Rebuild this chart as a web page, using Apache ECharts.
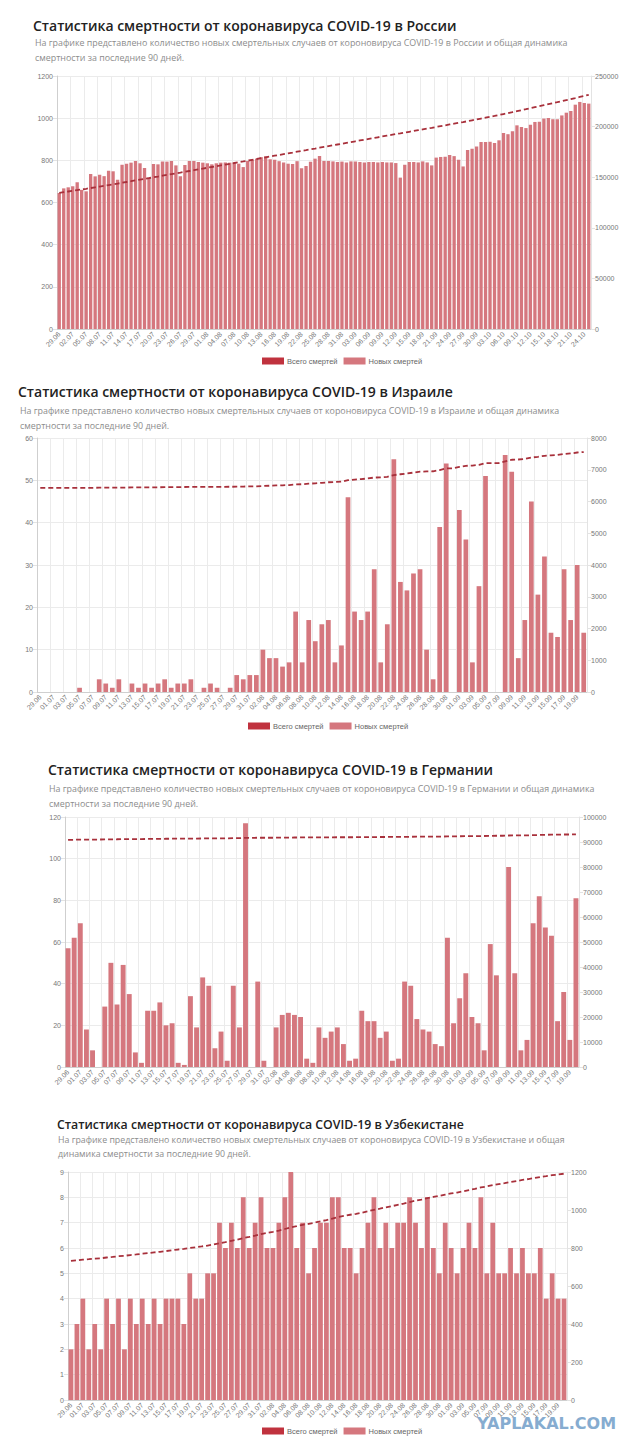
<!DOCTYPE html>
<html>
<head>
<meta charset="utf-8">
<title>Статистика смертности COVID-19</title>
<script src="https://cdn.jsdelivr.net/npm/echarts@6/dist/echarts.min.js"></script>
<style>
  html, body { margin: 0; padding: 0; background: #fff; }
  #chart { width: 640px; height: 1452px; }
</style>
</head>
<body>
<div id="chart"></div>
<script>
// Россия: новые смерти и всего смертей (29.06 - 25.10)
const ruNew = [645, 667, 672, 677, 696, 660, 653, 735, 724, 732,
  725, 751, 748, 708, 779, 784, 789, 797, 786, 764,
  719, 783, 781, 794, 794, 797, 776, 724, 778, 797,
  797, 792, 789, 786, 781, 786, 789, 790, 789, 789,
  784, 768, 797, 803, 808, 815, 819, 805, 803, 796,
  790, 784, 783, 796, 762, 773, 793, 808, 820, 797,
  797, 795, 792, 794, 790, 795, 794, 792, 790, 792,
  792, 790, 792, 790, 790, 787, 718, 779, 792, 792,
  790, 795, 790, 776, 813, 816, 817, 825, 820, 803,
  771, 849, 855, 866, 887, 887, 888, 882, 895, 930,
  924, 938, 966, 958, 953, 969, 982, 983, 998, 1001,
  995, 995, 1013, 1026, 1034, 1064, 1077, 1072, 1069]
const ruTotal = [134545, 135212, 135884, 136561, 137257, 137917, 138570, 139305, 140029, 140761,
  141486, 142237, 142985, 143693, 144472, 145256, 146045, 146842, 147628, 148392,
  149111, 149894, 150675, 151469, 152263, 153060, 153836, 154560, 155338, 156135,
  156932, 157724, 158513, 159299, 160080, 160866, 161655, 162445, 163234, 164023,
  164807, 165575, 166372, 167175, 167983, 168798, 169617, 170422, 171225, 172021,
  172811, 173595, 174378, 175174, 175936, 176709, 177502, 178310, 179130, 179927,
  180724, 181519, 182311, 183105, 183895, 184690, 185484, 186276, 187066, 187858,
  188650, 189440, 190232, 191022, 191812, 192599, 193317, 194096, 194888, 195680,
  196470, 197265, 198055, 198831, 199644, 200460, 201277, 202102, 202922, 203725,
  204496, 205345, 206200, 207066, 207953, 208840, 209728, 210610, 211505, 212435,
  213359, 214297, 215263, 216221, 217174, 218143, 219125, 220108, 221106, 222107,
  223102, 224097, 225110, 226136, 227170, 228234, 229311, 230383, 231452]

// Израиль (29.06 - 20.09)
const ilNew = [0, 0, 0, 0, 0, 0, 1, 0, 0, 3,
  2, 1, 3, 0, 2, 1, 2, 1, 2, 3,
  1, 2, 2, 3, 0, 1, 2, 1, 0, 1,
  4, 3, 4, 4, 10, 8, 8, 6, 7, 19,
  7, 17, 12, 16, 17, 7, 11, 46, 19, 17,
  19, 29, 7, 16, 55, 26, 24, 28, 29, 10,
  3, 39, 54, 0, 43, 36, 7, 25, 51, 0,
  0, 56, 52, 8, 17, 45, 23, 32, 14, 13,
  29, 17, 30, 14]
const ilTotal = [6430, 6430, 6430, 6430, 6430, 6430, 6431, 6431, 6431, 6434,
  6436, 6437, 6440, 6440, 6442, 6443, 6445, 6446, 6448, 6451,
  6452, 6454, 6456, 6459, 6459, 6460, 6462, 6463, 6463, 6464,
  6468, 6471, 6475, 6479, 6489, 6497, 6505, 6511, 6518, 6537,
  6544, 6561, 6573, 6589, 6606, 6613, 6624, 6670, 6689, 6706,
  6725, 6754, 6761, 6777, 6832, 6858, 6882, 6910, 6939, 6949,
  6952, 6991, 7045, 7045, 7088, 7124, 7131, 7156, 7207, 7207,
  7207, 7263, 7315, 7323, 7340, 7385, 7408, 7440, 7454, 7467,
  7496, 7513, 7543, 7557]

// Германия (29.06 - 20.09)
const deNew = [57, 62, 69, 18, 8, 0, 29, 50, 30, 49,
  35, 7, 2, 27, 27, 31, 20, 21, 2, 1,
  34, 19, 43, 39, 9, 17, 3, 39, 19, 117,
  0, 41, 3, 0, 19, 25, 26, 25, 24, 4,
  2, 19, 14, 17, 19, 11, 3, 4, 27, 22,
  22, 14, 17, 3, 4, 41, 39, 23, 18, 17,
  11, 10, 62, 21, 33, 45, 24, 21, 8, 59,
  44, 0, 96, 45, 8, 13, 69, 82, 67, 63,
  22, 36, 13, 81]
const deTotal = [90827, 90889, 90958, 90976, 90984, 90984, 91013, 91063, 91093, 91142,
  91177, 91184, 91186, 91213, 91240, 91271, 91291, 91312, 91314, 91315,
  91349, 91368, 91411, 91450, 91459, 91476, 91479, 91518, 91537, 91654,
  91654, 91695, 91698, 91698, 91717, 91742, 91768, 91793, 91817, 91821,
  91823, 91842, 91856, 91873, 91892, 91903, 91906, 91910, 91937, 91959,
  91981, 91995, 92012, 92015, 92019, 92060, 92099, 92122, 92140, 92157,
  92168, 92178, 92240, 92261, 92294, 92339, 92363, 92384, 92392, 92451,
  92495, 92495, 92591, 92636, 92644, 92657, 92726, 92808, 92875, 92938,
  92960, 92996, 93009, 93090]

// Узбекистан (29.06 - 20.09)
const uzNew = [2, 3, 4, 2, 3, 2, 4, 3, 4, 2,
  4, 3, 4, 3, 4, 3, 4, 4, 4, 3,
  5, 4, 4, 5, 5, 7, 6, 7, 6, 8,
  6, 7, 8, 6, 6, 7, 8, 9, 6, 7,
  5, 6, 7, 7, 8, 8, 6, 6, 5, 6,
  7, 8, 6, 7, 6, 7, 7, 8, 7, 6,
  8, 6, 5, 7, 6, 5, 6, 7, 6, 8,
  5, 7, 5, 5, 6, 5, 6, 5, 5, 6,
  4, 5, 4, 4]
const uzTotal = [732, 735, 739, 741, 744, 746, 750, 753, 757, 759,
  763, 766, 770, 773, 777, 780, 784, 788, 792, 795,
  800, 804, 808, 813, 818, 825, 831, 838, 844, 852,
  858, 865, 873, 879, 885, 892, 900, 909, 915, 922,
  927, 933, 940, 947, 955, 963, 969, 975, 980, 986,
  993, 1001, 1007, 1014, 1020, 1027, 1034, 1042, 1049, 1055,
  1063, 1069, 1074, 1081, 1087, 1092, 1098, 1105, 1111, 1119,
  1124, 1131, 1136, 1141, 1147, 1152, 1158, 1163, 1168, 1174,
  1178, 1183, 1187, 1191]

// подписи дат вида дд.мм
function dayLabels(day, month, count) {
  const monthDays = { 6: 30, 7: 31, 8: 31, 9: 30, 10: 31 }
  const out = []
  for (let i = 0; i < count; i++) {
    out.push(String(day).padStart(2, '0') + '.' + String(month).padStart(2, '0'))
    day++
    if (day > monthDays[month]) { day = 1; month++ }
  }
  return out
}
const ruDates = dayLabels(29, 6, ruNew.length)
const ilDates = dayLabels(29, 6, ilNew.length)
const deDates = dayLabels(29, 6, deNew.length)
const uzDates = dayLabels(29, 6, uzNew.length)

const NEW_NAME = 'Новых смертей'
const TOTAL_NAME = 'Всего смертей'
const BAR_COLOR = '#d5777e'
const LINE_COLOR = '#a8303b'
const TICK_FONT = '"Liberation Sans", Arial, sans-serif'

const panels = [
  { dates: ruDates, news: ruNew, totals: ruTotal, grid: { left: 57, right: 49, top: 76, height: 253 },
    leftMax: 1200, leftStep: 200, rightMax: 250000, rightStep: 50000, every: 3, gap: '26%' },
  { dates: ilDates, news: ilNew, totals: ilTotal, grid: { left: 37, right: 53, top: 438, height: 254 },
    leftMax: 60, leftStep: 10, rightMax: 8000, rightStep: 1000, every: 2, gap: '28%' },
  { dates: deDates, news: deNew, totals: deTotal, grid: { left: 65, right: 61, top: 817, height: 250 },
    leftMax: 120, leftStep: 20, rightMax: 100000, rightStep: 10000, every: 2, gap: '20%' },
  { dates: uzDates, news: uzNew, totals: uzTotal, grid: { left: 68, right: 73, top: 1172, height: 228 },
    leftMax: 9, leftStep: 1, rightMax: 1200, rightStep: 200, every: 2, gap: '20%' }
]

const grids = []
const xAxes = []
const yAxes = []
const series = []
panels.forEach(function(p, i) {
  grids.push(p.grid)
  xAxes.push({
    type: 'category',
    gridIndex: i,
    data: p.dates,
    boundaryGap: true,
    axisLine: { lineStyle: { color: '#cfcfcf' } },
    axisTick: { show: false },
    axisLabel: { interval: p.every - 1, rotate: 45, fontSize: 7, color: '#777', margin: 4, fontFamily: TICK_FONT },
    splitLine: { show: true, interval: p.every - 1, lineStyle: { color: '#ebebeb' } }
  })
  // левая ось - новые смерти
  yAxes.push({
    type: 'value',
    gridIndex: i,
    position: 'left',
    min: 0,
    max: p.leftMax,
    interval: p.leftStep,
    axisLine: { show: true, lineStyle: { color: '#cfcfcf' } },
    axisTick: { show: true, length: 4, lineStyle: { color: '#e3e3e3' } },
    axisLabel: { fontSize: 7, color: '#777', margin: 4, fontFamily: TICK_FONT, formatter: v => String(v) },
    splitLine: { lineStyle: { color: '#ebebeb' } }
  })
  // правая ось - всего смертей
  yAxes.push({
    type: 'value',
    gridIndex: i,
    position: 'right',
    min: 0,
    max: p.rightMax,
    interval: p.rightStep,
    axisLine: { show: true, lineStyle: { color: '#e3e3e3' } },
    axisTick: { show: true, length: 4, lineStyle: { color: '#e3e3e3' } },
    axisLabel: { fontSize: 7, color: '#777', margin: 4, fontFamily: TICK_FONT, formatter: v => String(v) },
    splitLine: { show: false }
  })
  series.push({
    name: NEW_NAME,
    type: 'bar',
    xAxisIndex: i,
    yAxisIndex: i * 2,
    data: p.news,
    barCategoryGap: p.gap,
    itemStyle: { color: BAR_COLOR },
    animation: false
  })
  series.push({
    name: TOTAL_NAME,
    type: 'line',
    xAxisIndex: i,
    yAxisIndex: i * 2 + 1,
    data: p.totals,
    symbol: 'none',
    z: 5,
    itemStyle: { color: '#c0323e' },
    lineStyle: { color: LINE_COLOR, width: 1.8, type: [5, 3] },
    animation: false
  })
})

function legendAt(left, top) {
  return {
    left: left,
    top: top,
    icon: 'rect',
    itemWidth: 22,
    itemHeight: 7,
    itemGap: 6,
    textStyle: { fontSize: 7.5, color: '#666', fontFamily: TICK_FONT, padding: [0, 0, 0, -2] },
    data: [TOTAL_NAME, NEW_NAME]
  }
}

function textAt(x, y, text, font, fill) {
  return { type: 'text', x: x, y: y, style: { text: text, font: font, fill: fill, verticalAlign: 'middle' } }
}

const TITLE_FONT = '600 14px "Open Sans", sans-serif'
const SUB_FONT = '8.9px "Open Sans", sans-serif'
const SUB_COLOR = '#8c8c8c'
const TITLE_COLOR = '#222'

const texts = [
  textAt(33, 25, 'Статистика смертности от коронавируса COVID-19 в России', TITLE_FONT, TITLE_COLOR),
  textAt(35, 42, 'На графике представлено количество новых смертельных случаев от короновируса COVID-19 в России и общая динамика', SUB_FONT, SUB_COLOR),
  textAt(35, 57, 'смертности за последние 90 дней.', SUB_FONT, SUB_COLOR),
  textAt(18, 391, 'Статистика смертности от коронавируса COVID-19 в Израиле', TITLE_FONT, TITLE_COLOR),
  textAt(20, 410, 'На графике представлено количество новых смертельных случаев от короновируса COVID-19 в Израиле и общая динамика', SUB_FONT, SUB_COLOR),
  textAt(20, 425, 'смертности за последние 90 дней.', SUB_FONT, SUB_COLOR),
  textAt(48, 769, 'Статистика смертности от коронавируса COVID-19 в Германии', TITLE_FONT, TITLE_COLOR),
  textAt(49, 788, 'На графике представлено количество новых смертельных случаев от короновируса COVID-19 в Германии и общая динамика', SUB_FONT, SUB_COLOR),
  textAt(49, 803, 'смертности за последние 90 дней.', SUB_FONT, SUB_COLOR),
  textAt(57, 1124, 'Статистика смертности от коронавируса COVID-19 в Узбекистане', '600 12.3px "Open Sans", sans-serif', TITLE_COLOR),
  textAt(58, 1140, 'На графике представлено количество новых смертельных случаев от короновируса COVID-19 в Узбекистане и общая', '8.8px "Open Sans", sans-serif', SUB_COLOR),
  textAt(58, 1154, 'динамика смертности за последние 90 дней.', '8.8px "Open Sans", sans-serif', SUB_COLOR),
  // водяной знак
  textAt(477, 1423, 'YAPLAKAL.COM', 'bold 16px "DejaVu Sans", sans-serif', '#86acd0')
]

const chart = echarts.init(document.getElementById('chart'), null, { renderer: 'svg' })
chart.setOption({
  backgroundColor: '#fff',
  animation: false,
  grid: grids,
  xAxis: xAxes,
  yAxis: yAxes,
  series: series,
  legend: [legendAt(257, 352), legendAt(243, 717), legendAt(257, 1422)],
  graphic: texts
})
</script>
</body>
</html>
